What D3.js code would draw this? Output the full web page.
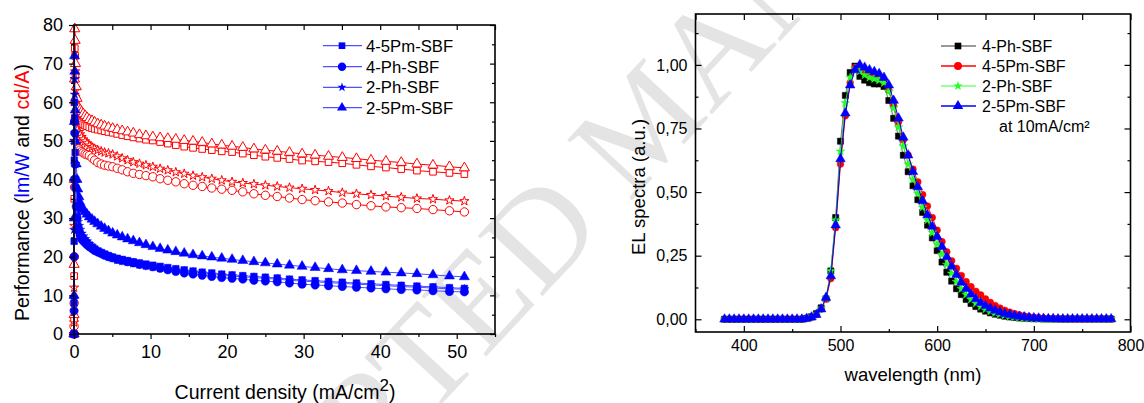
<!DOCTYPE html>
<html><head><meta charset="utf-8">
<script src="https://cdn.jsdelivr.net/npm/d3@7"></script>
<style>
body{margin:0;background:#fff;}
svg text{font-family:"Liberation Sans",Arial,Helvetica,sans-serif;}
</style>
</head><body>
<svg id="c" width="1144" height="403"></svg>
<script>
// ---------- Left chart data: efficiency vs current density ----------
const currentDensity = [0, 0.01, 0.02, 0.04, 0.07, 0.1, 0.15, 0.2, 0.3, 0.4,
  0.5, 0.65, 0.8, 1.0, 1.2, 1.45, 1.7, 2.0, 2.35, 2.7, 3.1, 3.55, 4.0, 4.5, 5.05,
  5.65, 6.3, 7.0, 7.75, 8.55, 9.4, 10.3, 11.25, 12.25, 13.3, 14.4, 15.55, 16.75, 18.0, 19.3,
  20.65, 22.05, 23.5, 25.0, 26.55, 28.15, 29.8, 31.5, 33.25, 35.05, 36.9, 38.8, 40.75, 42.75, 44.8,
  46.9, 49.05, 51.0];
// cd/A (red, open markers)
const cdA_45Pm = [0, 4, 15, 35, 60, 74, 72, 67, 61, 58,
  55.5, 55.2, 55, 54.6, 54.3, 54, 53.8, 53.5, 53.3, 53.1, 52.9, 52.7, 52.5, 52.3, 52.1,
  51.8, 51.5, 51.2, 50.9, 50.6, 50.3, 50.1, 49.7, 49.3, 48.9, 48.5, 48.2, 47.9, 47.6, 47.3,
  47.1, 46.7, 46.3, 45.9, 45.6, 45.3, 44.9, 44.7, 44.5, 44.2, 43.8, 43.4, 43.1, 42.7, 42.3,
  42.0, 41.7, 41.4];
const cdA_4Ph = [0, 2, 8, 20, 38, 55, 60, 56, 52, 50,
  48.3, 48, 47.6, 47.2, 46.9, 46.6, 46.4, 46.2, 45.6, 45.0, 44.4, 44.0, 43.7, 43.5, 43.3,
  42.9, 42.5, 42.0, 41.6, 41.3, 41.0, 40.7, 40.2, 39.8, 39.4, 38.9, 38.5, 38.2, 37.8, 37.5,
  37.2, 36.8, 36.3, 35.9, 35.6, 35.2, 34.8, 34.5, 34.2, 33.9, 33.5, 33.2, 32.9, 32.7, 32.5,
  32.2, 31.9, 31.6];
const cdA_2Ph = [0, 3, 12, 28, 50, 66, 68, 63, 57, 55,
  53, 52.3, 51.7, 51, 50.4, 49.9, 49.4, 48.8, 48.4, 48.0, 47.6, 47.3, 47.0, 46.8, 46.5,
  46.0, 45.5, 45.0, 44.5, 44.1, 43.7, 43.3, 42.8, 42.4, 41.9, 41.5, 41.0, 40.6, 40.2, 39.8,
  39.4, 39.1, 38.8, 38.5, 38.2, 37.9, 37.6, 37.3, 37.0, 36.6, 36.3, 36.0, 35.7, 35.4, 35.1,
  34.9, 34.6, 34.4];
const cdA_25Pm = [0, 5, 18, 40, 66, 79, 76, 70, 64, 61,
  59, 58.5, 58, 57.5, 57, 56.5, 56, 55.5, 55.2, 54.8, 54.4, 54.1, 53.8, 53.5, 53.2,
  52.9, 52.6, 52.3, 52, 51.6, 51.3, 51.0, 50.8, 50.6, 50.4, 50.1, 49.9, 49.6, 49.2, 48.9,
  48.6, 48.3, 47.9, 47.6, 47.3, 47.0, 46.6, 46.3, 46.0, 45.7, 45.4, 45.0, 44.7, 44.4, 44.0,
  43.7, 43.3, 43.0];
// lm/W (blue, filled markers)
const lmW_45Pm = [0, 8, 24, 45, 60, 56, 47, 40, 34, 30.5,
  28, 27, 26, 25, 24.5, 24, 23.5, 23, 22.5, 22.0, 21.5, 21.1, 20.7, 20.3, 19.9,
  19.6, 19.3, 19.0, 18.7, 18.4, 18.1, 17.8, 17.5, 17.2, 16.9, 16.6, 16.3, 16.0, 15.8, 15.5,
  15.3, 15.1, 14.9, 14.7, 14.5, 14.2, 14.0, 13.8, 13.6, 13.4, 13.2, 13.0, 12.8, 12.6, 12.4,
  12.2, 12.0, 11.8];
const lmW_4Ph = [0, 6, 20, 40, 55, 52, 44, 38, 33, 30,
  27.5, 26.5, 25.5, 24.6, 24.1, 23.6, 23.1, 22.6, 22.1, 21.6, 21.2, 20.8, 20.4, 20.0, 19.7,
  19.3, 19.0, 18.7, 18.4, 18.0, 17.7, 17.4, 17.0, 16.6, 16.2, 15.8, 15.5, 15.2, 14.9, 14.6,
  14.4, 14.2, 13.9, 13.7, 13.5, 13.2, 12.9, 12.7, 12.5, 12.3, 12.1, 11.9, 11.7, 11.5, 11.4,
  11.2, 11.0, 10.9];
const lmW_2Ph = [0, 9, 27, 50, 66, 62, 52, 44, 37, 32,
  29, 28, 27, 26, 25.3, 24.6, 24.0, 23.3, 22.7, 22.1, 21.6, 21.1, 20.6, 20.1, 19.6,
  19.2, 18.9, 18.6, 18.3, 18.0, 17.7, 17.4, 17.1, 16.8, 16.5, 16.2, 16.0, 15.7, 15.4, 15.2,
  15.0, 14.8, 14.6, 14.4, 14.2, 13.9, 13.7, 13.5, 13.3, 13.1, 12.9, 12.7, 12.5, 12.3, 12.1,
  11.9, 11.7, 11.6];
const lmW_25Pm = [0, 10, 30, 55, 72, 68, 58, 50, 44, 40,
  37.5, 35.5, 34, 32.8, 32.2, 31.6, 31.0, 30.3, 29.7, 29.1, 28.5, 27.9, 27.3, 26.7, 26.1,
  25.6, 25.1, 24.6, 24.1, 23.6, 23.1, 22.6, 22.1, 21.7, 21.3, 20.9, 20.5, 20.2, 19.9, 19.6,
  19.3, 19.0, 18.7, 18.4, 18.1, 17.8, 17.5, 17.2, 16.9, 16.6, 16.4, 16.2, 16.0, 15.8, 15.6,
  15.3, 15.0, 14.8];
const leftLegendLabels = ["4-5Pm-SBF", "4-Ph-SBF", "2-Ph-SBF", "2-5Pm-SBF"];
const leftXTicks = [0, 10, 20, 30, 40, 50];
const leftYTicks = [0, 10, 20, 30, 40, 50, 60, 70, 80];

// ---------- Right chart data: EL spectra at 10 mA/cm2 ----------
const wavelength = [380,385,390,395,400,405,410,415,420,425,430,435,440,445,450,455,460,
  465,470,475,480,485,490,495,500,505,510,515,520,525,530,535,540,545,550,555,560,565,570,575,
  580,585,590,595,600,605,610,615,620,625,630,635,640,645,650,655,660,665,670,675,680,685,690,695,700,
  705,710,715,720,725,730,735,740,745,750,755,760,765,770,775,780];
const el_4Ph = [0,0,0,0,0,0,0,0,0,0,0,0,0,0,0,0,0,
  .004,.01,.022,.045,.08,.19,.40,.70,.88,.97,.995,.955,.94,.93,.925,.925,.915,.86,.79,.72,
  .645,.58,.525,.47,.42,.37,.32,.27,.225,.185,.15,.12,.097,.078,.062,.05,.04,.032,.025,.02,
  .016,.012,.009,.007,.005,.004,.003,.002,
  .002,.001,.001,.001,.001,.001,.001,.001,.001,.001,.001,.001,.001,.001,.001,.001];
const el_45Pm = [0,0,0,0,0,0,0,0,0,0,0,0,0,0,0,0,0,
  .003,.008,.018,.04,.08,.16,.36,.61,.80,.93,.99,.99,.97,.96,.955,.95,.935,.9,.84,.775,
  .705,.645,.59,.54,.49,.445,.40,.35,.305,.265,.23,.2,.172,.148,.128,.11,.096,.08,.066,.054,
  .044,.035,.028,.022,.017,.013,.01,.008,
  .006,.004,.003,.002,.002,.001,.001,.001,.001,.001,.001,.001,.001,.001,.001,.001];
const el_2Ph = [0,0,0,0,0,0,0,0,0,0,0,0,0,0,0,0,0,
  .003,.009,.02,.042,.085,.19,.39,.66,.85,.95,.985,.975,.96,.95,.945,.94,.93,.895,.83,.755,
  .68,.61,.55,.495,.44,.39,.34,.295,.255,.215,.18,.148,.12,.097,.078,.063,.05,.04,.032,.025,
  .02,.016,.012,.009,.007,.005,.004,.003,
  .002,.002,.001,.001,.001,.001,.001,.001,.001,.001,.001,.001,.001,.001,.001,.001];
const el_25Pm = [0,0,0,0,0,0,0,0,0,0,0,0,0,0,0,0,0,
  .003,.008,.018,.04,.085,.17,.37,.63,.81,.92,.98,1.0,.99,.98,.973,.965,.95,.92,.86,.79,
  .715,.645,.58,.52,.465,.41,.365,.325,.285,.245,.208,.175,.145,.12,.098,.08,.065,.053,.043,.035,
  .028,.022,.018,.014,.011,.009,.007,.005,
  .004,.003,.002,.002,.001,.001,.001,.001,.001,.001,.001,.001,.001,.001,.001,.001];
const rightLegendLabels = ["4-Ph-SBF", "4-5Pm-SBF", "2-Ph-SBF", "2-5Pm-SBF"];
const rightXTicks = [400, 500, 600, 700, 800];
const rightYTicks = [0, 0.25, 0.5, 0.75, 1.0];

// ---------- drawing ----------
const svg = d3.select("#c");

// watermark
svg.append("text")
  .attr("transform", "translate(642,120) rotate(-47)")
  .attr("text-anchor", "middle").attr("dy", "0.35em")
  .style("font-family", "'Liberation Serif','Times New Roman',serif")
  .style("font-size", "135px")
  .attr("fill", "#e4e4e4")
  .text("ACCEPTED MANUSCRIPT");

function drawAxes(g, x, y, o) {
  const mk = (axisFn, scale, vals, size, fmt) => axisFn(scale).tickValues(vals).tickSize(size)
      .tickPadding(o.pad).tickFormat(fmt || "");
  const xr = x.range(), yr = y.range();
  const gb = g.append("g").attr("transform", `translate(0,${yr[0]})`);
  gb.call(mk(d3.axisBottom, x, o.xMaj, o.bSign * o.maj, o.fx));
  gb.append("g").call(mk(d3.axisBottom, x, o.xMin, o.bSign * o.min));
  const gl = g.append("g").attr("transform", `translate(${xr[0]},0)`);
  gl.call(mk(d3.axisLeft, y, o.yMaj, o.bSign * o.maj, o.fy));
  gl.append("g").call(mk(d3.axisLeft, y, o.yMin, o.bSign * o.min));
  const gt = g.append("g").attr("transform", `translate(0,${yr[1]})`);
  gt.call(mk(d3.axisTop, x, o.xMaj.concat(o.xMin), -o.maj));
  const gr = g.append("g").attr("transform", `translate(${xr[1]},0)`);
  gr.call(mk(d3.axisRight, y, o.yMaj, -o.maj));
  gr.append("g").call(mk(d3.axisRight, y, o.yMin, -o.min));
  g.selectAll(".domain").remove();
  g.selectAll(".tick line").attr("stroke", "#000").attr("stroke-width", 1.2);
  g.selectAll(".tick text").attr("fill", "#000").style("font-size", o.fs + "px")
    .style("font-family", '"Liberation Sans",Arial,sans-serif');
  g.append("rect").attr("x", xr[0]).attr("y", yr[1])
    .attr("width", xr[1] - xr[0]).attr("height", yr[0] - yr[1])
    .attr("fill", "none").attr("stroke", "#000").attr("stroke-width", 1.6);
}

function drawSeries(g, xs, ys, x, y, s) {
  const line = d3.line().x((d, i) => x(xs[i])).y(d => y(d));
  g.append("path").datum(ys).attr("d", line).attr("fill", "none")
    .attr("stroke", s.line).attr("stroke-width", s.lw || 1);
  const sym = d3.symbol().type(s.type).size(s.size);
  g.append("g").selectAll("path").data(ys).join("path")
    .attr("transform", (d, i) => `translate(${x(xs[i])},${y(d)})`)
    .attr("d", sym)
    .attr("fill", s.open ? "#fff" : s.color)
    .attr("stroke", s.color).attr("stroke-width", s.open ? 1 : 0.5);
}

// ===== Left chart =====
const xL = d3.scaleLinear().domain([0, 55]).range([74, 495]);
const yL = d3.scaleLinear().domain([0, 80]).range([334, 25]);
const gL = svg.append("g");
const RED = "#ff0000", BLUE = "#0000ff", BLUEL = "#4f4fff";
const leftSeries = [
  {v: cdA_4Ph, type: d3.symbolCircle, size: 55, color: RED, line: RED, open: true},
  {v: cdA_2Ph, type: d3.symbolStar, size: 26, color: RED, line: RED, open: true},
  {v: cdA_45Pm, type: d3.symbolSquare, size: 44, color: RED, line: RED, open: true},
  {v: cdA_25Pm, type: d3.symbolTriangle, size: 44, color: RED, line: RED, open: true},
  {v: lmW_25Pm, type: d3.symbolTriangle, size: 44, color: BLUE, line: BLUEL},
  {v: lmW_2Ph, type: d3.symbolStar, size: 26, color: BLUE, line: BLUEL},
  {v: lmW_45Pm, type: d3.symbolSquare, size: 44, color: BLUE, line: BLUEL},
  {v: lmW_4Ph, type: d3.symbolCircle, size: 55, color: BLUE, line: BLUEL}
];
leftSeries.forEach(s => drawSeries(gL, currentDensity, s.v, xL, yL, s));
drawAxes(gL, xL, yL, {
  xMaj: leftXTicks, xMin: [5, 15, 25, 35, 45, 55], yMaj: leftYTicks,
  yMin: [5, 15, 25, 35, 45, 55, 65, 75], bSign: 1, maj: 5, min: 3, pad: 6, fs: 18,
  fx: d3.format("d"), fy: d3.format("d")
});

// left legend
const legL = [
  {t: leftLegendLabels[0], type: d3.symbolSquare, size: 44},
  {t: leftLegendLabels[1], type: d3.symbolCircle, size: 55},
  {t: leftLegendLabels[2], type: d3.symbolStar, size: 26},
  {t: leftLegendLabels[3], type: d3.symbolTriangle, size: 44}
];
const legLy = [45.7, 66.7, 87.3, 107.7];
legL.forEach((d, i) => {
  const g = gL.append("g").attr("transform", `translate(0,${legLy[i]})`);
  g.append("line").attr("x1", 323).attr("x2", 362).attr("stroke", BLUEL).attr("stroke-width", 1.2);
  g.append("path").attr("transform", "translate(342,0)").attr("d", d3.symbol().type(d.type).size(d.size)()).attr("fill", BLUE);
  g.append("text").attr("x", 366).attr("dy", "0.36em").style("font-size", "16.7px").text(d.t);
});

// left titles
const ytl = gL.append("text").attr("transform", "translate(29,192.5) rotate(-90)")
  .attr("text-anchor", "middle").style("font-size", "19.5px");
ytl.append("tspan").text("Performance (");
ytl.append("tspan").attr("fill", BLUE).text("lm/W");
ytl.append("tspan").text(" and ");
ytl.append("tspan").attr("fill", RED).text("cd/A");
ytl.append("tspan").text(")");
const xtl = gL.append("text").attr("x", 285).attr("y", 398.5)
  .attr("text-anchor", "middle").style("font-size", "19.5px");
xtl.append("tspan").text("Current density (mA/cm");
xtl.append("tspan").attr("dy", -8).style("font-size", "17px").text("2");
xtl.append("tspan").attr("dy", 8).text(")");

// ===== Right chart =====
const xR = d3.scaleLinear().domain([350, 800]).range([695.5, 1130.5]);
const yR = d3.scaleLinear().domain([-0.05, 1.2]).range([332, 14]);
const gR = svg.append("g");
const rightSeries = [
  {v: el_4Ph, type: d3.symbolSquare, size: 38, color: "#000000", line: "#777777"},
  {v: el_45Pm, type: d3.symbolCircle, size: 36, color: "#ff0000", line: "#ff0000"},
  {v: el_2Ph, type: d3.symbolStar, size: 24, color: "#22ff22", line: "#33cc33"},
  {v: el_25Pm, type: d3.symbolTriangle, size: 40, color: "#0000ff", line: "#0000ff"}
];
rightSeries.forEach(s => drawSeries(gR, wavelength, s.v, xR, yR, s));
drawAxes(gR, xR, yR, {
  xMaj: rightXTicks, xMin: [350, 450, 550, 650, 750], yMaj: rightYTicks,
  yMin: [0.125, 0.375, 0.625, 0.875, 1.125], bSign: -1, maj: 6, min: 3, pad: 8, fs: 16,
  fx: d3.format("d"), fy: v => d3.format(".2f")(v).replace(".", ",")
});

// right legend
const legR = [
  {t: rightLegendLabels[0], type: d3.symbolSquare, size: 44, c: "#000", lc: "#777"},
  {t: rightLegendLabels[1], type: d3.symbolCircle, size: 50, c: "#ff0000", lc: "#ff0000"},
  {t: rightLegendLabels[2], type: d3.symbolStar, size: 28, c: "#22ff22", lc: "#77ff77"},
  {t: rightLegendLabels[3], type: d3.symbolTriangle, size: 48, c: "#0000ff", lc: "#0000ff"}
];
const legRy = [46, 66, 86, 106];
legR.forEach((d, i) => {
  const g = gR.append("g").attr("transform", `translate(0,${legRy[i]})`);
  g.append("line").attr("x1", 941).attr("x2", 976).attr("stroke", d.lc).attr("stroke-width", 1.5);
  g.append("path").attr("transform", "translate(958,0)").attr("d", d3.symbol().type(d.type).size(d.size)()).attr("fill", d.c);
  g.append("text").attr("x", 982).attr("dy", "0.36em").style("font-size", "16px").text(d.t);
});
gR.append("text").attr("x", 999).attr("y", 126).attr("dy", "0.36em").style("font-size", "16px").text("at 10mA/cm²");

// right titles
gR.append("text").attr("transform", "translate(645,187) rotate(-90)")
  .attr("text-anchor", "middle").style("font-size", "18.5px").text("EL spectra (a.u.)");
gR.append("text").attr("x", 913).attr("y", 381)
  .attr("text-anchor", "middle").style("font-size", "18.5px").text("wavelength (nm)");
</script>
</body></html>
